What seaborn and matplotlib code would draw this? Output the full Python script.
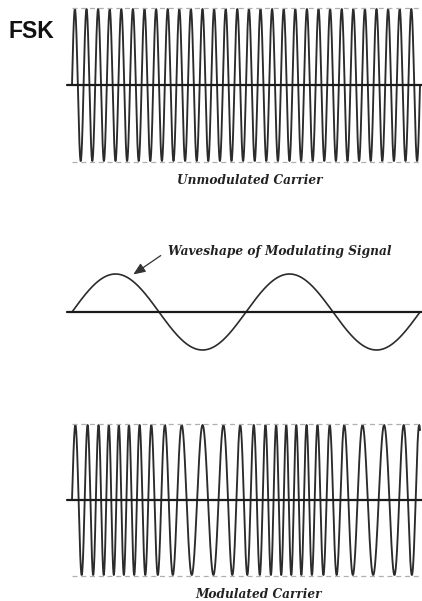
"""FSK diagram: unmodulated carrier, modulating signal and FSK carrier."""

import numpy as np
import pandas as pd
import matplotlib
matplotlib.use("Agg")
import matplotlib.pyplot as plt
import seaborn as sns

# values (pixel units of the 422x601 canvas)
x_start, x_end = 72, 420
axis_left = 67

carrier_axis_y = 85
carrier_amp = 76
carrier_cycles = 30

mod_axis_y = 312
mod_amp = 38
mod_cycles = 2

fsk_axis_y = 500
fsk_amp = 75
fsk_spacing_high = 10.0   # px between peaks where the signal is high
fsk_spacing_low = 22.0    # px between peaks where the signal is low

captions = ["Unmodulated Carrier", "Waveshape of Modulating Signal", "Modulated Carrier"]
title = "FSK"

line_color = "#2b2b2b"
axis_color = "#1a1a1a"
dash_color = "#b0b0b0"


def build_waves():
    x = np.linspace(x_start, x_end, 6000)
    span = x_end - x_start
    carrier = carrier_axis_y - carrier_amp * np.sin(2 * np.pi * carrier_cycles * (x - x_start) / span)
    m = np.sin(2 * np.pi * mod_cycles * (x - x_start) / span)
    modsig = mod_axis_y - mod_amp * m
    f_hi, f_lo = 1 / fsk_spacing_high, 1 / fsk_spacing_low
    fc, df = (f_hi + f_lo) / 2, (f_hi - f_lo) / 2
    freq = fc + df * m
    phase = 2 * np.pi * np.concatenate([[0], np.cumsum((freq[1:] + freq[:-1]) / 2 * np.diff(x))])
    fsk = fsk_axis_y - fsk_amp * np.sin(phase)
    return pd.DataFrame({"x": x, "carrier": carrier, "modsig": modsig, "fsk": fsk})


def main():
    sns.set_theme(style="white")
    fig = plt.figure(figsize=(4.22, 6.01), dpi=100)
    ax = fig.add_axes([0, 0, 1, 1])
    ax.set_xlim(0, 422)
    ax.set_ylim(601, 0)
    ax.axis("off")

    df = build_waves()
    for col, lw in [("carrier", 1.35), ("modsig", 1.2), ("fsk", 1.35)]:
        sns.lineplot(data=df, x="x", y=col, ax=ax, color=line_color, lw=lw,
                     sort=False, estimator=None)

    # baselines
    for y in [carrier_axis_y, mod_axis_y, fsk_axis_y]:
        ax.plot([axis_left, 422], [y, y], color=axis_color, lw=1.6)

    # dashed envelopes
    for y0, a in [(carrier_axis_y, carrier_amp), (fsk_axis_y, fsk_amp)]:
        for y in [y0 - a - 1, y0 + a + 1]:
            ax.plot([x_start, x_end], [y, y], color=dash_color, lw=0.9, ls=(0, (4, 3)))

    serif = dict(family="DejaVu Serif", style="italic", weight="bold", color="#222222",
                 fontsize=8.7)
    ax.text(250, 180, captions[0], ha="center", va="center", **serif)
    ax.text(259, 595, captions[2], ha="center", va="center", **serif)
    ax.text(168, 252, captions[1], ha="left", va="center", **serif)
    ax.annotate("", xy=(131, 276), xytext=(163, 254),
                arrowprops=dict(arrowstyle="-|>,head_length=0.6,head_width=0.25",
                                color="#333333", lw=0.9))

    ax.text(8, 32, title, ha="left", va="center", family="Liberation Sans",
            weight="bold", fontsize=16.5, color="#111111")

    fig.savefig("out.png", dpi=100)
    plt.close(fig)


if __name__ == "__main__":
    main()
